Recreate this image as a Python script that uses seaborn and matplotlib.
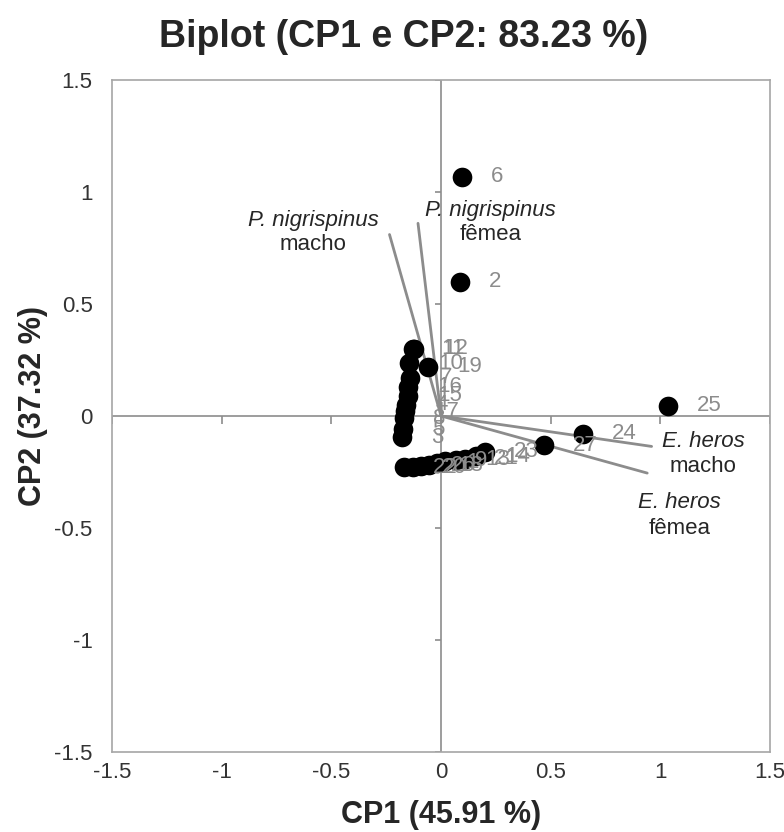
import matplotlib
matplotlib.use('Agg')
import matplotlib.pyplot as plt
import seaborn as sns
import pandas as pd

# observacoes (escores CP1, CP2)
obs = ['6', '2', '25', '24', '27',
       '11', '12', '10', '19', '7', '16', '15', '4', '17', '8', '5', '3',
       '22', '20', '26', '18', '1', '9', '13', '21', '14', '23']
cp1 = [0.096, 0.085, 1.035, 0.645, 0.47,
       -0.13, -0.125, -0.145, -0.06, -0.14, -0.15, -0.15, -0.16, -0.165, -0.17, -0.175, -0.18,
       -0.17, -0.13, -0.09, -0.055, -0.02, 0.02, 0.07, 0.11, 0.16, 0.20]
cp2 = [1.067, 0.60, 0.045, -0.08, -0.13,
       0.30, 0.30, 0.235, 0.22, 0.17, 0.13, 0.09, 0.05, 0.02, -0.01, -0.06, -0.095,
       -0.23, -0.228, -0.223, -0.219, -0.21, -0.20, -0.196, -0.19, -0.18, -0.16]

# variaveis (vetores)
var_especie = ['P. nigrispinus', 'P. nigrispinus', 'E. heros', 'E. heros']
var_sexo = ['macho', 'fêmea', 'macho', 'fêmea']
var_cp1 = [-0.235, -0.105, 0.96, 0.94]
var_cp2 = [0.81, 0.86, -0.136, -0.255]

ticks = [-1.5, -1, -0.5, 0, 0.5, 1, 1.5]
tick_labels = ['-1.5', '-1', '-0.5', '0', '0.5', '1', '1.5']

sns.set_style('white')
plt.rcParams['font.family'] = ['Liberation Sans', 'DejaVu Sans']

fig = plt.figure(figsize=(7.84, 8.32), dpi=100)
ax = fig.add_axes([0.1429, 0.0962, 0.8393, 0.8077])

df = pd.DataFrame({'CP1': cp1, 'CP2': cp2, 'obs': obs})

grey = '#8c8c8c'
ax.axhline(0, color=grey, lw=1.2, zorder=1)
ax.axvline(0, color=grey, lw=1.2, zorder=1)
ax.vlines(ticks, 0, -0.035, color=grey, lw=1.2, zorder=1)
ax.hlines(ticks, -0.027, 0, color=grey, lw=1.2, zorder=1)

for x, y in zip(var_cp1, var_cp2):
    ax.plot([0, x], [0, y], color=grey, lw=2, zorder=2)

sns.scatterplot(data=df, x='CP1', y='CP2', color='black', s=200,
                linewidth=0, ax=ax, zorder=3)

for lab, x, y in zip(obs, cp1, cp2):
    ax.annotate(lab, (x, y), xytext=(21, 0), textcoords='offset points',
                ha='left', va='center', color=grey, fontsize=16, zorder=4)

# deslocamento dos rotulos dos vetores (pontos): dx, dy linha 1, dy linha 2
offs = [(-55, 10, -7), (52, 9.4, -8), (37, 3.2, -14.8), (23, -21, -39.6)]
for esp, sexo, x, y, (dx, d1, d2) in zip(var_especie, var_sexo, var_cp1, var_cp2, offs):
    ax.annotate(esp, (x, y), xytext=(dx, d1), textcoords='offset points',
                ha='center', va='center', fontsize=16, style='italic', zorder=5)
    ax.annotate(sexo, (x, y), xytext=(dx, d2), textcoords='offset points',
                ha='center', va='center', fontsize=16, zorder=5)

ax.set_xlim(-1.5, 1.5)
ax.set_ylim(-1.5, 1.5)
ax.set_xticks(ticks)
ax.set_xticklabels(tick_labels)
ax.set_yticks(ticks)
ax.set_yticklabels(tick_labels)
ax.tick_params(axis='x', length=0, pad=7, labelsize=16, labelcolor='#333333')
ax.tick_params(axis='y', length=0, pad=14, labelsize=16, labelcolor='#333333')
ax.set_xlabel('')
ax.set_ylabel('')
for sp in ax.spines.values():
    sp.set_color('#a6a6a6')
    sp.set_linewidth(1.2)

fig.text(404 / 784, 1 - 47 / 832, 'Biplot (CP1 e CP2: 83.23 %)', ha='center',
         va='baseline', fontsize=27, fontweight='bold')
fig.text(441 / 784, 1 - 823 / 832, 'CP1 (45.91 %)', ha='center', va='baseline',
         fontsize=22, fontweight='bold')
fig.text(33 / 784, 1 - 405.5 / 832, 'CP2 (37.32 %)', ha='center', va='center',
         rotation=90, fontsize=22, fontweight='bold')

fig.savefig('out.png', dpi=100)
